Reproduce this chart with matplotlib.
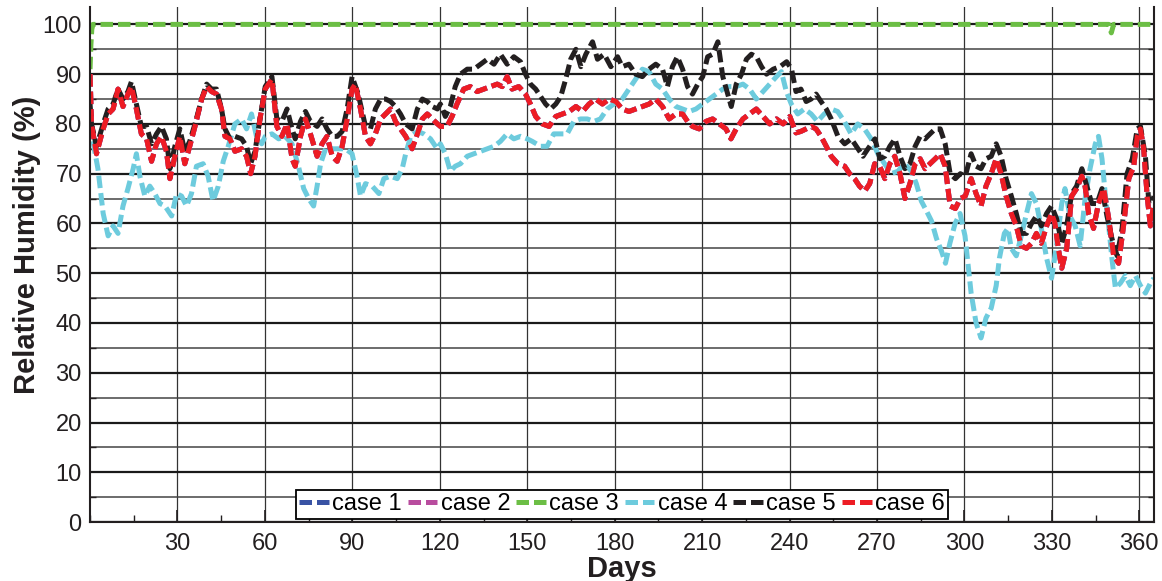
import matplotlib
matplotlib.use('Agg')
import matplotlib.pyplot as plt
from matplotlib.ticker import MultipleLocator

plt.rcParams['font.family'] = ['Liberation Sans', 'DejaVu Sans']

# case 6 (red); case 1 and case 2 lie on top of it
days6 = [0, 0.5, 2.2, 4.5, 6.2, 7.9, 9.6, 11.3, 13, 14.2, 15.9, 17.6, 19.4, 21.1, 22.8, 24.5,
         26.2, 27.4, 29.1, 30.8, 32.5, 34.2, 36, 38.3, 40, 41.7, 43.4, 45.1, 46.3, 48, 49.7, 52,
         53.7, 55.1, 56.6, 58.3,
         60.1, 62.4, 64.1, 65.8, 67.6, 69.3, 70.4, 72.2, 73.9, 75.6, 77.9, 79.6, 81.3, 83.1, 84.8,
         86.5, 88.2, 89.9, 91, 92.8, 94.5, 96.2, 97.9, 99.7, 101.4, 103.1, 104.8, 106.5, 108.3,
         110.5, 112.3, 114, 115.7, 117.4, 119.2,
         120.2, 122.5, 124.2, 125.9, 128.2, 130.5, 132.8, 135.1, 137.4, 139.7, 141.4, 143.1, 144.8,
         147.1, 149.4, 151.1, 152.9, 155.2, 157.5, 159.8, 162.1, 164.4, 166.7, 169, 171.2, 173.5,
         175.8, 178.1, 180.4,
         182.6, 184.9, 187.2, 189.5, 191.8, 194.1, 196.4, 198.7, 201, 203.3, 205, 206.7, 209,
         211.3, 213.6, 215.9, 218.2, 219.9, 221.7, 224, 226.3, 228.6, 230.9, 233.2, 235.5, 237.8,
         240.1,
         242.2, 243.9, 245.7, 247.4, 249.1, 250.8, 252.6, 254.3, 256.6, 258.9, 260.6, 262.3, 264,
         265.8, 267.5, 269.2, 270.9, 272.7, 274.4, 276.1, 277.9, 279.6, 281.3, 283.1, 284.8, 286.5,
         288.2, 290, 291.7, 293.4, 295.1, 296.9, 298.6, 300.3,
         302.3, 304, 305.7, 307.4, 309.2, 310.9, 312.6, 314.3, 316.1, 317.8, 319.5, 321.3, 323,
         324.7, 326.4, 328.2, 329.9, 331.1, 332.2, 333.4, 335.1, 336.8, 338.5, 340.3, 341.4, 342.6,
         344.3, 346, 347.8, 349.5, 351.2, 352.9, 354.7, 356.4, 358.1, 359.3, 360.4, 361.5, 362.7,
         363.8, 365]
rh6 = [90, 80, 74, 79, 82, 83, 87, 83.5, 86, 87.5, 83, 78, 77, 72.5, 76, 77.5,
       74.5, 69, 73.5, 77.5, 72, 75.5, 79.5, 85, 87.5, 86.5, 86, 83, 77.5, 77, 74.5, 75,
       73.5, 70, 73.5, 81,
       87, 89, 79.5, 77.5, 80, 73, 71.5, 77.5, 81, 78, 73.5, 76, 77.5, 73.5, 72.5,
       75.5, 81, 87, 88, 83, 77.5, 76, 78, 81, 82, 83, 80.5, 79, 77.5,
       75, 78, 81, 82, 81, 80,
       79.5, 79.5, 81.5, 84, 87, 87.5, 86.5, 87, 87.5, 88, 87.5, 89.5, 87,
       87.5, 86, 84, 81.5, 80, 79.5, 81.5, 82, 82.5, 83.5, 82.5, 84, 85,
       84, 85, 84.5,
       83, 82.5, 83, 83.5, 84, 85, 83.5, 81, 82, 82, 80.5, 79.5, 79,
       80.5, 81, 80, 79, 77, 79, 81, 82, 83, 81.5, 80, 81, 80,
       81.5,
       78.2, 78.5, 79, 79.5, 79, 77.5, 75.5, 73.5, 72, 71.5, 70, 69, 67.5,
       66.5, 68, 72, 71.5, 69, 72, 73.5, 70, 65, 68, 72, 73, 71,
       72, 73, 74, 71.5, 63.5, 63, 65, 65.5,
       69, 66, 63.5, 67.5, 70, 73, 70, 65.5, 62, 59.5, 55.5, 55, 56,
       58, 56, 59.5, 62, 60, 55, 51, 55, 65.5, 67, 69.5, 67.5, 62,
       59, 64, 67, 61, 53.5, 52, 60, 69, 71.5, 77.5, 79, 75, 65.5,
       59.5, 64]

# case 5 (black)
days5 = [0, 0.5, 2.2, 4.5, 6.2, 7.9, 9.6, 11.3, 13, 14.2, 15.9, 17.6, 19.4, 21.1, 22.8, 24.5,
         26.2, 27.4, 29.1, 30.8, 32.5, 34.2, 36, 38.3, 40, 41.7, 43.4, 45.1, 46.3, 48, 49.7, 52,
         53.7, 55.1, 56.6, 58.3,
         60.1, 62.4, 64.1, 65.8, 67.6, 69.3, 70.4, 72.2, 73.9, 75.6, 77.9, 79.6, 81.3, 83.1, 84.8,
         86.5, 88.2, 89.9, 92, 94.5, 96.2, 97.9, 99.7, 101.4, 103.1, 104.8, 106.5, 108.3, 110.5,
         112.3, 114, 115.7, 117.4, 119.2,
         120.2, 121.9, 123.6, 125.3, 127.1, 129.4, 131.7, 134, 136.3, 138.6, 140.8, 143.1, 145.4,
         147.7, 149.4, 151.1, 152.9, 154.6, 156.3, 158, 159.8, 161.5, 163.2, 164.9, 166.7, 168.4,
         170.1, 172.4, 174.1, 176.4, 178.7, 181,
         182.6, 184.9, 187.2, 189.5, 191.8, 194.1, 196.4, 198.1, 199.8, 201.5, 203.3, 205, 206.7,
         208.5, 210.2, 211.9, 213.6, 215.4, 217.1, 218.8, 220, 221.7, 223.5, 225.2, 226.9, 228.6,
         230.4, 232.1, 234.4, 236.7, 239, 240.7,
         242.2, 243.9, 245.7, 247.4, 249.1, 250.8, 252.6, 254.3, 256.6, 258.9, 261.2, 263.5, 265.2,
         266.9, 269.3, 271, 272.7, 274.4, 276.2, 277.9, 279.6, 281.3, 283.1, 284.8, 286.5, 288.2,
         290, 291.7, 293.4, 295.1, 296.9, 298.6, 300.3,
         302.3, 304, 305.7, 307.4, 309.2, 310.9, 312.6, 314.3, 316.1, 317.8, 319.5, 321.3, 323,
         324.7, 326.4, 328.2, 329.9, 331.6, 333.4, 335.1, 336.8, 338.5, 340.3, 342, 343.7, 345.5,
         347.2, 348.9, 350.6, 352.4, 354.1, 355.8, 357.6, 359.3, 360.4, 362.1, 363.3, 364.4, 365]
rh5 = [84, 80, 75.5, 80, 83, 84, 87, 85, 86.5, 88.5, 84, 79.5, 79.5, 76, 78, 79.5,
       77, 71, 75.5, 79, 74.5, 76.5, 80, 85, 88, 87, 87, 83, 79, 77, 77.5, 77,
       75.5, 72, 74.5, 81,
       87.5, 89.5, 81, 80.5, 83, 79, 77, 80.5, 82.5, 80.5, 79.5, 81, 79, 77.5, 77.5,
       78.5, 83, 89.5, 86, 79.5, 79, 83, 85, 85, 84.5, 83.5, 82, 80, 79,
       83, 85, 84.5, 83.5, 83,
       84, 81.5, 83.5, 87.5, 90, 91, 91, 92, 93, 92, 94, 92, 93.5,
       92.5, 90, 88, 87, 85.5, 84, 83, 84, 85.5, 89, 93, 95, 91.5,
       94, 96.5, 93, 94, 91.5, 93.5,
       91.5, 92, 90, 89.5, 91, 92, 91, 87.5, 91.5, 93.5, 91, 87.5, 86,
       88, 89.5, 93.5, 94, 96.5, 89.5, 86, 83.5, 88, 90, 93, 94, 93.5,
       91.5, 90, 91, 91.5, 92.5, 91,
       86.5, 87, 84.5, 85, 86, 84.5, 83, 81, 77.5, 76, 77, 75, 73.5,
       75, 77, 73, 73.5, 75.5, 77, 73.5, 71, 72, 75.5, 77.5, 77, 78,
       79, 79, 76, 70, 69, 70, 69.5,
       74, 71.5, 71, 73, 73.5, 76, 73.5, 69, 65.5, 62, 58, 58, 60,
       61.5, 59.5, 62, 63.5, 61, 56, 59.5, 66, 67.5, 71, 67.5, 64, 64,
       67, 61.5, 57, 53.5, 59, 70, 73, 79, 79.5, 73.5, 64, 64, 65.5]

# case 4 (light blue)
days4 = [0, 0.5, 2.7, 4.5, 6.2, 7.9, 9.6, 11.3, 13, 14.8, 15.9, 17.1, 18.8, 20.5, 22.2, 24,
         25.7, 28, 29.7, 31.4, 33.1, 34.8, 36.5, 38.8, 40.5, 42.2, 44, 45.7, 47.4, 49.7, 52, 53.7,
         55.4, 57.1, 58.9,
         60.1, 62.4, 64.7, 66.9, 69.3, 71.5, 73.3, 75, 76.7, 77.9, 79.1, 80.8, 83.1, 85.4, 87.6,
         89.9, 91.6, 92.8, 94.5, 96.8, 99.1, 100.8, 103.1, 105.4, 107.1, 108.3, 110, 112.3, 114.5,
         116.8, 119.1,
         120.2, 121.9, 123.6, 125.3, 127.1, 129.4, 131.7, 134, 136.3, 138.6, 140.8, 143.1, 145.4,
         147.7, 150, 151.7, 154.6, 156.8, 159.1, 161.4, 163.7, 166, 168.3, 170.6, 172.9, 175.1,
         177.4, 179.7,
         182.6, 184.9, 187.2, 189.5, 191.8, 194.1, 196.4, 198.7, 201, 203.3, 205.6, 207.9, 210.2,
         212.5, 214.8, 217.1, 219.4, 221.7, 224, 226.3, 228.6, 230.9, 233.2, 235.5, 237.2, 238.9,
         240.6,
         242.8, 245.1, 247.4, 249.6, 251.9, 254.2, 256.5, 258.8, 261.1, 263.4, 265.7, 268, 270.3,
         272.6, 274.9, 277.2, 279.5, 281.8, 283.5, 285.2, 287, 288.7, 290.4, 292.1, 293.5, 295,
         296.8, 298.5, 300.2,
         302.3, 304, 305.7, 307.4, 309.2, 310.9, 312, 313.7, 314.9, 316.1, 317.8, 319.5, 321.3,
         323, 324.7, 326.4, 328.2, 329.9, 331.6, 333.4, 334.5, 336.2, 338, 339.7, 341.4, 343.1,
         344.9, 346, 347.2, 348.3, 349.5, 350.6, 351.8, 353.5, 355.2, 356.9, 358.7, 360.4, 362.1,
         363.8, 365]
rh4 = [80, 78, 71, 62, 57.5, 59.5, 58, 63.5, 67, 71, 74, 69.5, 65.5, 67.5, 66, 64,
       63.5, 61.5, 66, 65.5, 63.5, 66, 71.5, 72, 69.5, 64.5, 67.5, 72.5, 75.5, 80, 81, 79,
       82, 77.5, 76,
       77.5, 78, 77, 77.5, 76, 71.5, 67, 65, 63.5, 67.5, 72, 75, 75, 75, 75,
       74, 69.5, 65.5, 68, 67.5, 66, 69, 69.5, 69, 71, 74, 77.5, 78.5, 78,
       77, 75,
       76, 74, 70.5, 71.5, 72, 73.5, 74, 74.5, 75, 75.5, 76.5, 78, 77,
       77.5, 77, 76.5, 75.5, 75.5, 78, 78, 78, 80.5, 81, 81, 80.5, 81,
       83, 84,
       85, 87, 89, 91, 90.5, 88, 87, 85, 83.5, 83, 82.5, 83, 84,
       85, 86, 87, 87.5, 87.5, 88, 87, 85, 86.5, 88, 89.5, 90.5, 86.5,
       84,
       82, 83, 82, 80.5, 82, 83, 82.5, 80.5, 78, 80, 79, 77, 74,
       72, 70, 70.5, 72, 70.5, 68, 64.5, 62.5, 60.5, 57, 54.5, 52, 56,
       60, 62, 57.5,
       46, 40, 37, 41, 43, 47.5, 53, 58, 59, 55, 53.5, 57.5, 62,
       66, 64, 59, 53, 49, 55.5, 64, 67, 61.5, 59.5, 55.5, 65, 71,
       76, 77.5, 73, 66, 59.5, 53, 47, 48, 49.5, 47.5, 49.5, 47.5, 46,
       48, 49]

# case 3 (green): saturated almost all year
days3 = [0, 0.3, 0.6, 1, 349.5, 350.4, 351.2, 365]
rh3 = [91, 96, 99, 100, 100, 98.3, 100, 100]

labels = ['case 1', 'case 2', 'case 3', 'case 4', 'case 5', 'case 6']
colors = ['#3953a4', '#b84c9e', '#6cbe45', '#6dcbdd', '#231f20', '#ed1c24']
series = [(days6, rh6), (days6, rh6), (days3, rh3), (days4, rh4), (days5, rh5), (days6, rh6)]

fig = plt.figure(figsize=(11.62, 5.81), dpi=100)
ax = fig.add_axes([0.0775, 0.1015, 0.9155, 0.8865])

for (d, v), lab, c in zip(series, labels, colors):
    ax.plot(d, v, color=c, lw=3.6, ls=(0, (2.5, 1.0)), label=lab,
            dash_capstyle='butt', dash_joinstyle='round')

ax.set_xlim(0, 365)
ax.set_ylim(0, 103.5)
ax.xaxis.set_major_locator(MultipleLocator(30))
ax.xaxis.set_minor_locator(MultipleLocator(15))
ax.set_yticks(range(0, 101, 10))
ax.yaxis.set_minor_locator(MultipleLocator(5))
ax.set_xticks(range(30, 361, 30))

ax.set_axisbelow(True)
ax.grid(which='major', axis='y', color='#1a1a1a', lw=1.6)
ax.grid(which='minor', axis='y', color='#444444', lw=1.1)
ax.grid(which='major', axis='x', color='#333333', lw=0.9)

ax.tick_params(axis='both', which='both', direction='in', labelsize=17,
               colors='#231f20', right=True)
ax.tick_params(axis='x', which='major', length=9, width=1.2, pad=8)
ax.tick_params(axis='x', which='minor', length=5, width=1.0)
ax.tick_params(axis='y', which='major', length=0, pad=6)
ax.tick_params(axis='y', which='minor', length=4, width=1.0)

ax.spines['top'].set_visible(False)
for s in ['left', 'bottom', 'right']:
    ax.spines[s].set_linewidth(1.5)
    ax.spines[s].set_color('#231f20')

ax.set_xlabel('Days', fontsize=21, fontweight='bold', color='#231f20', labelpad=0)
ax.set_ylabel('Relative Humidity (%)', fontsize=21, fontweight='bold', color='#231f20')
ax.yaxis.set_label_coords(-0.046, 0.538)

leg = ax.legend(loc='lower center', bbox_to_anchor=(0.5, 0.006), ncol=6, fontsize=17,
                frameon=True, fancybox=False, framealpha=1, edgecolor='black',
                handlelength=1.25, handletextpad=0.15, columnspacing=0.25,
                borderpad=0.15, borderaxespad=0.0)
leg.get_frame().set_linewidth(1.3)

fig.savefig('out.png', dpi=100)
